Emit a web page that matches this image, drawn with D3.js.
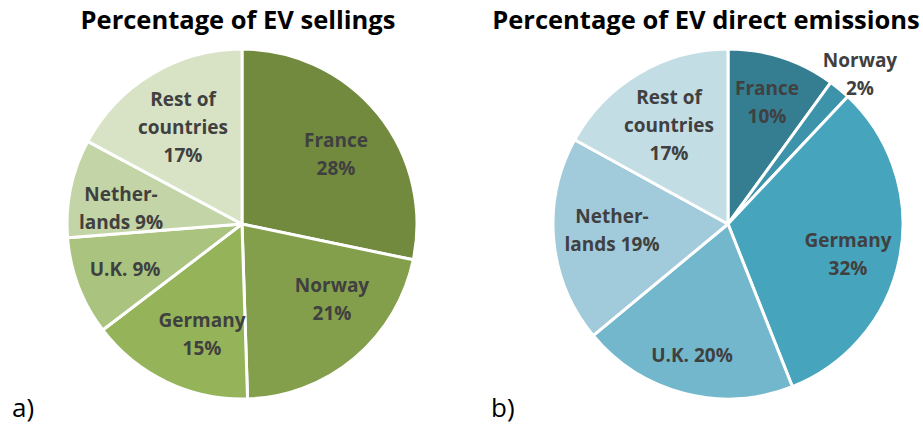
<!DOCTYPE html>
<html>
<head>
<meta charset="utf-8">
<script src="https://cdn.jsdelivr.net/npm/d3@7/dist/d3.min.js"></script>
<style>
  html, body { margin: 0; padding: 0; background: #ffffff; }
  svg { display: block; }
</style>
</head>
<body>
<svg id="chart" width="923" height="427"></svg>
<script>
// Countries, in clockwise order starting at 12 o'clock
const countries = ["France", "Norway", "Germany", "U.K.", "Netherlands", "Rest of countries"];

// Share of EV sales (%)
const sellingShares = [28, 21, 15, 9, 9, 17];
// Share of EV direct emissions (%)
const emissionShares = [10, 2, 32, 20, 19, 17];

// Label text lines per slice (the percentage is appended from the values)
const sellingLabels = [["France"], ["Norway"], ["Germany"], ["U.K. "], ["Nether-", "lands "], ["Rest of", "countries"]];
const emissionLabels = [["France"], ["Norway"], ["Germany"], ["U.K. "], ["Nether-", "lands "], ["Rest of", "countries"]];

const chartTitles = ["Percentage of EV sellings", "Percentage of EV direct emissions"];
const panelTags = ["a)", "b)"];

// Palettes: dark to light
const greens = ["#718A3E", "#839F4B", "#95B45A", "#AAC47F", "#C3D5A6", "#D8E3C5"];
const blues  = ["#357E91", "#3D93AA", "#47A4BD", "#72B7CC", "#A1CBDB", "#C3DDE5"];

// Label block centres relative to each pie centre (layout only)
const sellingLabelPos = [[94, -70], [90, 75], [-40, 110], [-117, 45], [-121, -16], [-59, -97]];
const emissionLabelPos = [[39, -122], [132, -150], [120, 30], [-36, 131], [-116, 6], [-59, -99]];

const svg = d3.select("#chart");
const radius = 175;
const fontFamily = "'Open Sans', Lato, sans-serif";

const panels = [
  { cx: 242, cy: 224, values: sellingShares, labels: sellingLabels, colors: greens, pos: sellingLabelPos,
    title: chartTitles[0], titleX: 238, tag: panelTags[0], tagX: 12 },
  { cx: 728, cy: 224, values: emissionShares, labels: emissionLabels, colors: blues, pos: emissionLabelPos,
    title: chartTitles[1], titleX: 706, tag: panelTags[1], tagX: 491 }
];

const pie = d3.pie().sort(null).value(d => d);
const arc = d3.arc().innerRadius(0).outerRadius(radius);

panels.forEach(p => {
  const g = svg.append("g").attr("transform", `translate(${p.cx},${p.cy})`);
  const color = d3.scaleOrdinal().domain(countries).range(p.colors);

  g.selectAll("path.slice")
    .data(pie(p.values))
    .join("path")
    .attr("class", "slice")
    .attr("d", arc)
    .attr("fill", (d, i) => color(countries[i]))
    .attr("stroke", "#ffffff")
    .attr("stroke-width", 3)
    .attr("stroke-linejoin", "round");

  const lineH = 28;
  p.values.forEach((v, i) => {
    const lines = p.labels[i].slice();
    const pct = v + "%";
    if (lines.length === 1 && lines[0].endsWith(" ")) {
      lines[0] = lines[0] + pct;
    } else if (lines.length === 2 && lines[1].endsWith(" ")) {
      lines[1] = lines[1] + pct;
    } else {
      lines.push(pct);
    }
    const [ox, oy] = p.pos[i];
    const t = g.append("text")
      .attr("text-anchor", "middle")
      .attr("font-family", fontFamily)
      .attr("font-weight", "bold")
      .attr("font-size", 19)
      .attr("fill", "#404040");
    const top = oy - (lines.length - 1) * lineH / 2;
    lines.forEach((ln, k) => {
      t.append("tspan")
        .attr("x", ox)
        .attr("y", top + k * lineH)
        .attr("dy", "0.35em")
        .text(ln);
    });
  });

  svg.append("text")
    .attr("x", p.titleX)
    .attr("y", 29)
    .attr("text-anchor", "middle")
    .attr("font-family", fontFamily)
    .attr("font-weight", "bold")
    .attr("font-size", 25.5)
    .attr("fill", "#000000")
    .text(p.title);

  svg.append("text")
    .attr("x", p.tagX)
    .attr("y", 417)
    .attr("font-family", fontFamily)
    .attr("font-size", 26)
    .attr("fill", "#000000")
    .text(p.tag);
});
</script>
</body>
</html>
